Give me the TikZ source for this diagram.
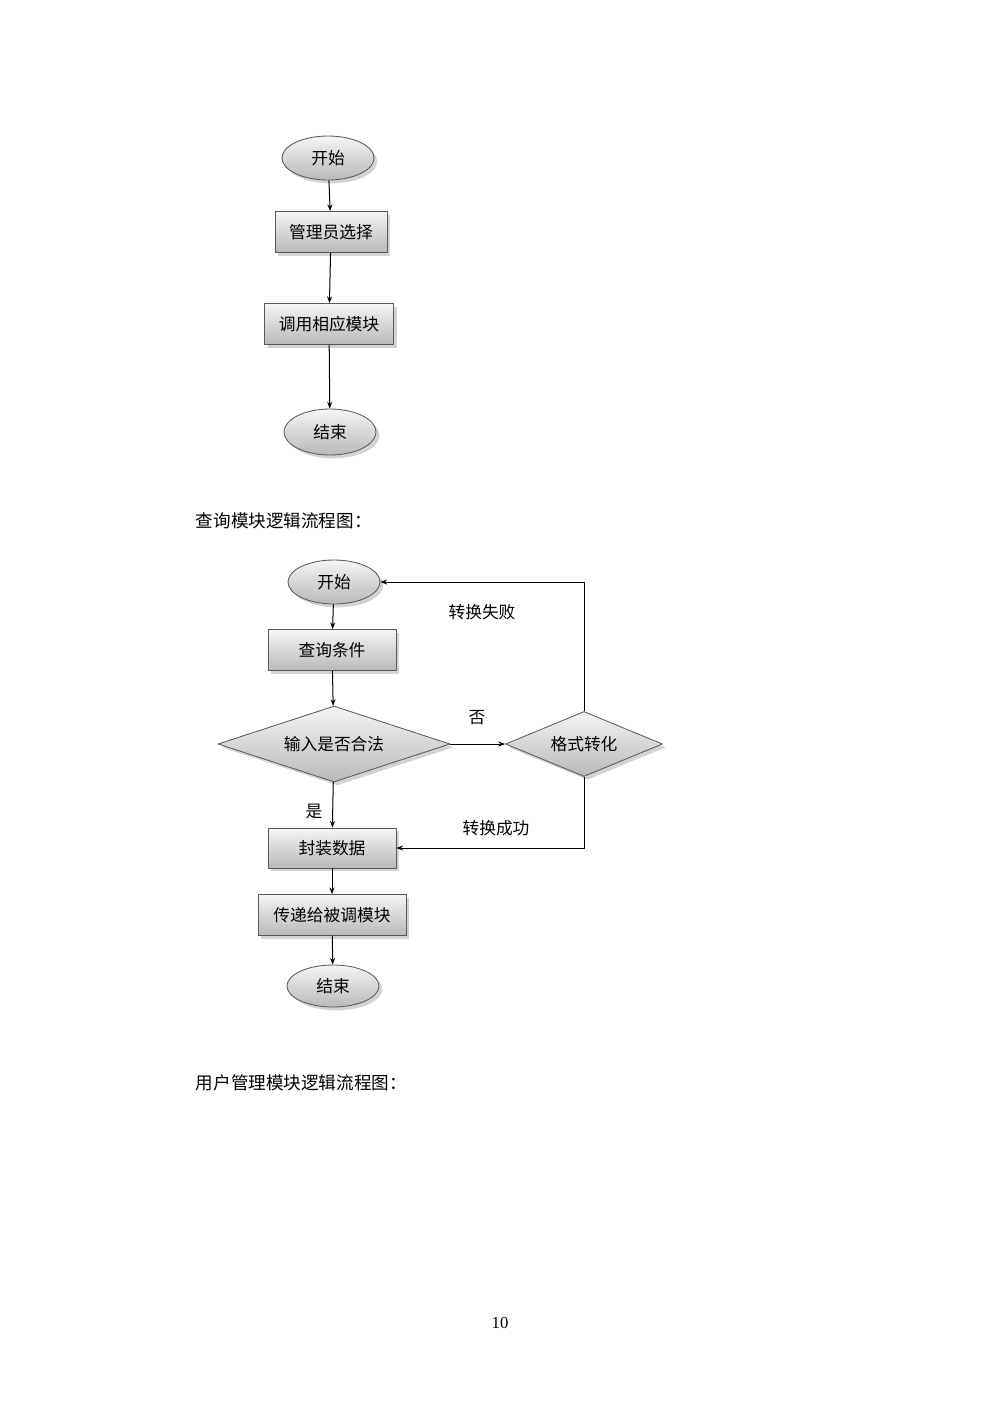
\documentclass[tikz,border=0pt]{standalone}
\usepackage{fontspec}
\setmainfont{Liberation Serif}
\newfontfamily\cjk{Noto Sans CJK SC}
\usetikzlibrary{shapes.geometric,shadows,arrows.meta}
\begin{document}
\begin{tikzpicture}[x=0.021cm,y=-0.021cm,
 box/.style={draw=gray!70!black,line width=0.5pt,top color=gray!8,bottom color=gray!55,drop shadow={opacity=0.35,shadow xshift=2pt,shadow yshift=-2pt},font=\cjk\fontsize{10}{12}\selectfont,inner sep=0pt},
 rbox/.style={box,rectangle},
 ell/.style={box,ellipse},
 dia/.style={box,diamond},
 arr/.style={-{Stealth[length=4pt,width=3pt]},line width=0.6pt},
 lab/.style={font=\cjk\fontsize{10}{12}\selectfont},
 captxt/.style={font=\cjk\fontsize{10.5}{12}\selectfont,anchor=west}]
\useasboundingbox (0,0) rectangle (1000,1415);
% first chart
\node[ell,minimum width=92*0.021cm,minimum height=44*0.021cm] (s1) at (328,158) {开始};
\node[rbox,minimum width=112*0.021cm,minimum height=41*0.021cm] (b1) at (331,232) {管理员选择};
\node[rbox,minimum width=129*0.021cm,minimum height=41*0.021cm] (b2) at (329,324) {调用相应模块};
\node[ell,minimum width=92*0.021cm,minimum height=46*0.021cm] (e1) at (330,432) {结束};
\draw[arr] (s1) -- (b1);
\draw[arr] (b1) -- (b2);
\draw[arr] (b2) -- (e1);
\node[captxt] (c1) at (190,521) {查询模块逻辑流程图：};
% second chart
\node[ell,minimum width=92*0.021cm,minimum height=44*0.021cm] (s2) at (334,582) {开始};
\node[rbox,minimum width=128*0.021cm,minimum height=41*0.021cm] (q) at (332,650) {查询条件};
\node[dia,minimum width=232*0.021cm,minimum height=76*0.021cm,aspect=3] (d1) at (334,744) {输入是否合法};
\node[dia,minimum width=157*0.021cm,minimum height=65*0.021cm,aspect=2.4] (d2) at (584,744) {格式转化};
\node[rbox,minimum width=128*0.021cm,minimum height=40*0.021cm] (f) at (332,848) {封装数据};
\node[rbox,minimum width=148*0.021cm,minimum height=41*0.021cm] (t) at (332,915) {传递给被调模块};
\node[ell,minimum width=92*0.021cm,minimum height=42*0.021cm] (e2) at (333,986) {结束};
\draw[arr] (s2) -- (q);
\draw[arr] (q) -- (d1);
\draw[arr] (d1) -- (d2);
\draw[arr] (d1) -- (f);
\draw[arr] (f) -- (t);
\draw[arr] (t) -- (e2);
\draw[arr] (d2.north) |- (s2.east);
\draw[arr] (d2.south) |- (f.east);
\node[lab] (l1) at (482,612) {转换失败};
\node[lab] (l2) at (477,718) {否};
\node[lab] (l3) at (314,811) {是};
\node[lab] (l4) at (496,828) {转换成功};
\node[captxt] (c2) at (190,1083) {用户管理模块逻辑流程图：};
\node[font=\fontsize{10}{12}\selectfont] (pg) at (500,1323) {10};
\end{tikzpicture}
\end{document}
